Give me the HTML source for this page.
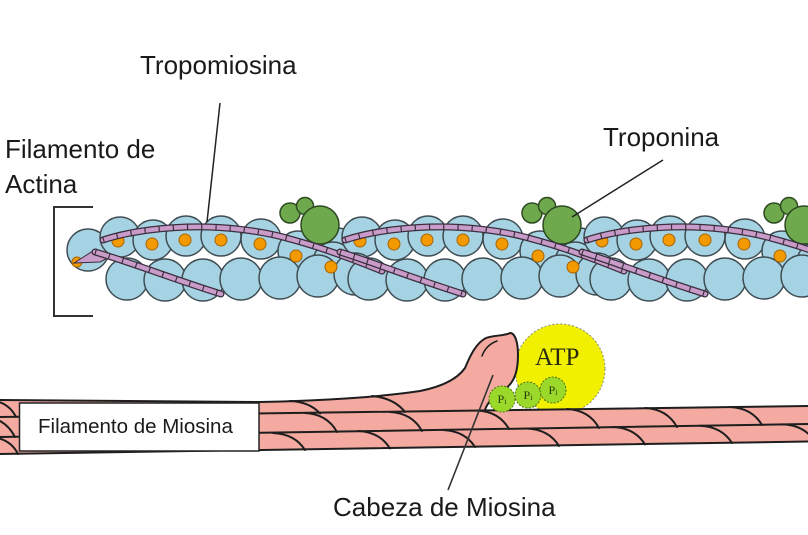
<!DOCTYPE html>
<html><head><meta charset="utf-8"><style>
html,body{margin:0;padding:0;background:#fff;}
svg{display:block;}
</style></head><body>
<svg width="808" height="535" viewBox="0 0 808 535" xmlns="http://www.w3.org/2000/svg">
<rect width="808" height="535" fill="#fff"/>

<!-- labels -->
<g font-family="Liberation Sans, Arial, sans-serif" font-size="26" fill="#1a1a1a">
<text x="140" y="74">Tropomiosina</text>
<text x="5" y="158">Filamento de</text>
<text x="5" y="193">Actina</text>
<text x="603" y="146">Troponina</text>
<text x="333" y="516">Cabeza de Miosina</text>
</g>

<!-- bracket -->
<path d="M93,207 L54,207 L54,316 L93,316" fill="none" stroke="#333" stroke-width="2"/>

<!-- actin: top row circles -->
<g fill="#a6d3e3" stroke="#3f4d53" stroke-width="1.5">
<circle cx="88" cy="250" r="21"/>
<g transform="translate(320,0)">
<circle cx="-200" cy="237" r="20"/><circle cx="-167" cy="240" r="20"/><circle cx="-134" cy="236" r="20"/><circle cx="-99" cy="236" r="20"/><circle cx="-59" cy="239" r="20"/><circle cx="18" cy="246" r="18"/><circle cx="-22" cy="251" r="20"/><circle cx="13" cy="262" r="20"/>
</g>
<g transform="translate(562,0)">
<circle cx="-200" cy="237" r="20"/><circle cx="-167" cy="240" r="20"/><circle cx="-134" cy="236" r="20"/><circle cx="-99" cy="236" r="20"/><circle cx="-59" cy="239" r="20"/><circle cx="18" cy="246" r="18"/><circle cx="-22" cy="251" r="20"/><circle cx="13" cy="262" r="20"/>
</g>
<g transform="translate(804,0)">
<circle cx="-200" cy="237" r="20"/><circle cx="-167" cy="240" r="20"/><circle cx="-134" cy="236" r="20"/><circle cx="-99" cy="236" r="20"/><circle cx="-59" cy="239" r="20"/><circle cx="18" cy="246" r="18"/><circle cx="-22" cy="251" r="20"/><circle cx="13" cy="262" r="20"/>
</g>
</g>

<!-- actin: bottom row circles -->
<g fill="#a6d3e3" stroke="#3f4d53" stroke-width="1.5">
<g transform="translate(320,0)">
<circle cx="-193" cy="279" r="21"/><circle cx="-155" cy="280" r="21"/><circle cx="-117" cy="280" r="21"/><circle cx="-79" cy="279" r="21"/><circle cx="-40" cy="278" r="21"/><circle cx="-2" cy="276" r="21"/><circle cx="35" cy="274" r="21"/>
</g>
<g transform="translate(562,0)">
<circle cx="-193" cy="279" r="21"/><circle cx="-155" cy="280" r="21"/><circle cx="-117" cy="280" r="21"/><circle cx="-79" cy="279" r="21"/><circle cx="-40" cy="278" r="21"/><circle cx="-2" cy="276" r="21"/><circle cx="35" cy="274" r="21"/>
</g>
<g transform="translate(804,0)">
<circle cx="-193" cy="279" r="21"/><circle cx="-155" cy="280" r="21"/><circle cx="-117" cy="280" r="21"/><circle cx="-79" cy="279" r="21"/><circle cx="-40" cy="278" r="21"/><circle cx="-2" cy="276" r="21"/><circle cx="35" cy="274" r="21"/>
</g>
</g>

<!-- orange dots -->
<g fill="#f39a00" stroke="#a86400" stroke-width="1">
<circle cx="77" cy="262" r="5"/>
<g transform="translate(320,0)">
<circle cx="-202" cy="241" r="6"/><circle cx="-168" cy="244" r="6"/><circle cx="-135" cy="240" r="6"/><circle cx="-99" cy="240" r="6"/><circle cx="-60" cy="244" r="6"/><circle cx="-24" cy="256" r="6"/><circle cx="11" cy="267" r="6"/>
</g>
<g transform="translate(562,0)">
<circle cx="-202" cy="241" r="6"/><circle cx="-168" cy="244" r="6"/><circle cx="-135" cy="240" r="6"/><circle cx="-99" cy="240" r="6"/><circle cx="-60" cy="244" r="6"/><circle cx="-24" cy="256" r="6"/><circle cx="11" cy="267" r="6"/>
</g>
<g transform="translate(804,0)">
<circle cx="-202" cy="241" r="6"/><circle cx="-168" cy="244" r="6"/><circle cx="-135" cy="240" r="6"/><circle cx="-99" cy="240" r="6"/><circle cx="-60" cy="244" r="6"/><circle cx="-24" cy="256" r="6"/><circle cx="11" cy="267" r="6"/>
</g>
</g>

<!-- troponin -->
<g fill="#6fa94e" stroke="#2e4a22" stroke-width="1.5">
<g transform="translate(320,0)"><circle cx="-30" cy="213" r="10"/><circle cx="-15" cy="206" r="8.5"/><circle cx="0" cy="225" r="19"/></g>
<g transform="translate(562,0)"><circle cx="-30" cy="213" r="10"/><circle cx="-15" cy="206" r="8.5"/><circle cx="0" cy="225" r="19"/></g>
<g transform="translate(804,0)"><circle cx="-30" cy="213" r="10"/><circle cx="-15" cy="206" r="8.5"/><circle cx="0" cy="225" r="19"/></g>
</g>

<!-- tropomyosin strands -->
<polygon points="74,263 96,249 110,257 100,262" fill="#c99bc8" stroke="#3b2f3f" stroke-width="1"/>
<g fill="none" stroke-linecap="round">
<g transform="translate(320,0)">
<path d="M-217,240 C-190,231 -150,226 -112,227 C-80,228 -50,233 -30,239 C0,247 30,258 62,271" stroke="#3b2f3f" stroke-width="7"/>
<path d="M-217,240 C-190,231 -150,226 -112,227 C-80,228 -50,233 -30,239 C0,247 30,258 62,271" stroke="#c99bc8" stroke-width="4.5"/>
<path d="M-217,240 C-190,231 -150,226 -112,227 C-80,228 -50,233 -30,239 C0,247 30,258 62,271" stroke="#3b2f3f" stroke-width="6" stroke-dasharray="1.2 13" stroke-linecap="butt"/>
<path d="M-225,252 C-190,262 -150,278 -99,294" stroke="#3b2f3f" stroke-width="7"/>
<path d="M-225,252 C-190,262 -150,278 -99,294" stroke="#c99bc8" stroke-width="4.5"/>
<path d="M-225,252 C-190,262 -150,278 -99,294" stroke="#3b2f3f" stroke-width="6" stroke-dasharray="1.2 13" stroke-linecap="butt"/>
</g>
<g transform="translate(562,0)">
<path d="M-217,240 C-190,231 -150,226 -112,227 C-80,228 -50,233 -30,239 C0,247 30,258 62,271" stroke="#3b2f3f" stroke-width="7"/>
<path d="M-217,240 C-190,231 -150,226 -112,227 C-80,228 -50,233 -30,239 C0,247 30,258 62,271" stroke="#c99bc8" stroke-width="4.5"/>
<path d="M-217,240 C-190,231 -150,226 -112,227 C-80,228 -50,233 -30,239 C0,247 30,258 62,271" stroke="#3b2f3f" stroke-width="6" stroke-dasharray="1.2 13" stroke-linecap="butt"/>
<path d="M-222,252 C-190,262 -150,278 -99,294" stroke="#3b2f3f" stroke-width="7"/>
<path d="M-222,252 C-190,262 -150,278 -99,294" stroke="#c99bc8" stroke-width="4.5"/>
<path d="M-222,252 C-190,262 -150,278 -99,294" stroke="#3b2f3f" stroke-width="6" stroke-dasharray="1.2 13" stroke-linecap="butt"/>
</g>
<g transform="translate(804,0)">
<path d="M-217,240 C-190,231 -150,226 -112,227 C-80,228 -50,233 -30,239 C0,247 30,258 62,271" stroke="#3b2f3f" stroke-width="7"/>
<path d="M-217,240 C-190,231 -150,226 -112,227 C-80,228 -50,233 -30,239 C0,247 30,258 62,271" stroke="#c99bc8" stroke-width="4.5"/>
<path d="M-217,240 C-190,231 -150,226 -112,227 C-80,228 -50,233 -30,239 C0,247 30,258 62,271" stroke="#3b2f3f" stroke-width="6" stroke-dasharray="1.2 13" stroke-linecap="butt"/>
<path d="M-222,252 C-190,262 -150,278 -99,294" stroke="#3b2f3f" stroke-width="7"/>
<path d="M-222,252 C-190,262 -150,278 -99,294" stroke="#c99bc8" stroke-width="4.5"/>
<path d="M-222,252 C-190,262 -150,278 -99,294" stroke="#3b2f3f" stroke-width="6" stroke-dasharray="1.2 13" stroke-linecap="butt"/>
</g>
</g>

<!-- leader lines top -->
<line x1="220" y1="103" x2="207" y2="222" stroke="#222" stroke-width="1.5"/>
<line x1="663" y1="160" x2="572" y2="217" stroke="#222" stroke-width="1.5"/>

<!-- ATP -->
<circle cx="560" cy="369" r="45" fill="#f0f000" stroke="#888" stroke-width="1" stroke-dasharray="2 2"/>
<text x="535" y="365" font-family="Liberation Serif, Times New Roman, serif" font-size="25" fill="#2a2a10">ATP</text>

<!-- myosin -->
<path d="M0,400 L260,402 C320,401 380,397 420,391 C445,386 458,378 465,368 C470,356 476,343 486,338 C494,335 505,336 510,333 C516,333 518,345 518,355 C518,370 515,382 505,389 C497,395 488,400 485,410 L808,406 L808,441.5 L0,454 Z" fill="#f4aaa0"/>
<g fill="none" stroke="#1e1e1e" stroke-width="2" stroke-linecap="round">
<path d="M0,400 L260,402 C320,401 380,397 420,391 C445,386 458,378 465,368 C470,356 476,343 486,338 C494,335 505,336 510,333 C516,333 518,345 518,355 C518,370 515,382 505,389 C497,395 488,400 485,410"/>
<path d="M482,356 Q486,345 497,341" stroke-width="1.5"/>
<path d="M0,417 L808,406"/>
<path d="M0,437 L808,424"/>
<path d="M0,454 L808,441.5"/>
<!-- stripes -->
<path d="M-12,400 Q8,401 16,417"/>
<path d="M-15,417 Q5,418 15,437"/>
<path d="M-10,437 Q10,438 18,454"/>
<path d="M290,401 Q310,402 320,413.5"/>
<path d="M372,396 Q394,398 405,412"/>
<path d="M305,413 Q327,414 337,432"/>
<path d="M390,412 Q412,413 422,431"/>
<path d="M477,410.5 Q499,411.5 509,429"/>
<path d="M567,409 Q589,410 599,428"/>
<path d="M645,408 Q667,409 677,427"/>
<path d="M730,407 Q752,408 762,425"/>
<path d="M273,433 Q295,434 305,450"/>
<path d="M358,431 Q380,432 390,448.5"/>
<path d="M443,430 Q465,431 475,447"/>
<path d="M527,428.5 Q549,429.5 559,446"/>
<path d="M613,427 Q635,428 645,444.5"/>
<path d="M700,425.7 Q722,426.7 732,443"/>
<path d="M783,424.4 Q805,425.4 815,442"/>
</g>

<!-- Pi -->
<g fill="#9ad92a" stroke="#4d7010" stroke-width="1" stroke-dasharray="2 1.5">
<circle cx="502" cy="399" r="13"/>
<circle cx="528" cy="395" r="13"/>
<circle cx="553" cy="390" r="13"/>
</g>
<g font-family="Liberation Serif, serif" font-size="12" fill="#2a3a10" text-anchor="middle">
<text x="502" y="403">P<tspan font-size="8" dy="1">i</tspan></text>
<text x="528" y="399">P<tspan font-size="8" dy="1">i</tspan></text>
<text x="553" y="394">P<tspan font-size="8" dy="1">i</tspan></text>
</g>

<!-- box -->
<rect x="19.5" y="403" width="239.5" height="48" fill="#fff" stroke="#222" stroke-width="1.5"/>
<text x="38" y="433" font-family="Liberation Sans, Arial, sans-serif" font-size="20.5" fill="#1a1a1a">Filamento de Miosina</text>

<!-- leader bottom -->
<line x1="493" y1="375" x2="448" y2="490" stroke="#333" stroke-width="1.6"/>
</svg>
</body></html>
